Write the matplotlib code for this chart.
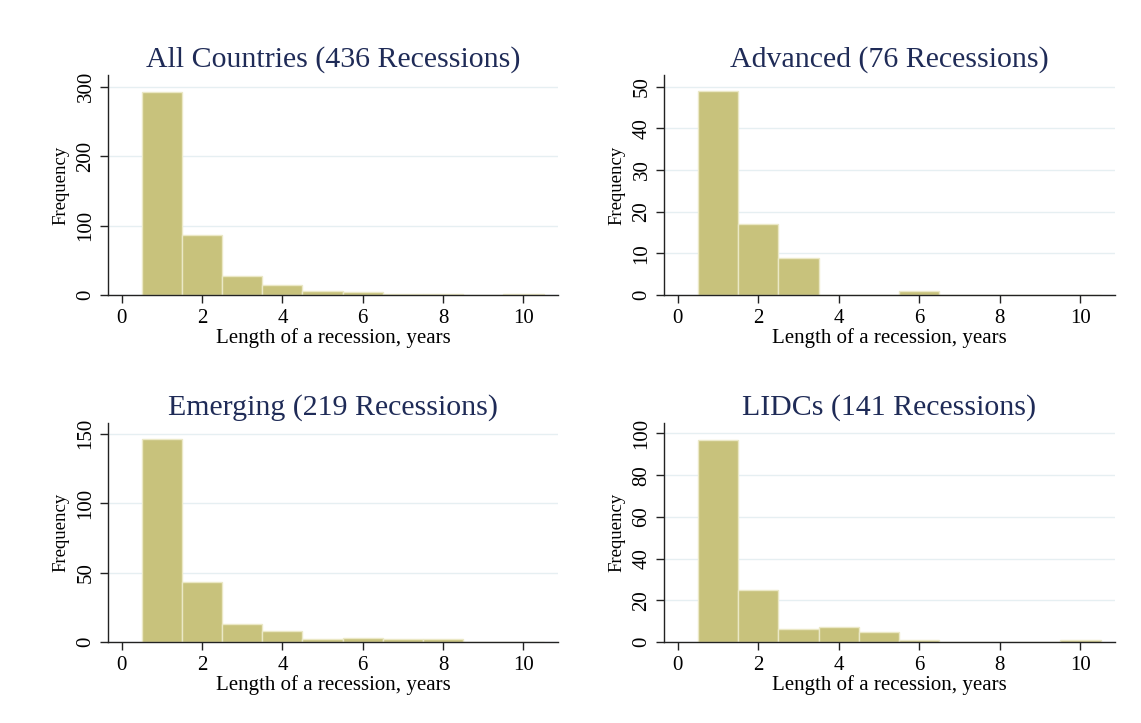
import matplotlib
matplotlib.use("Agg")
import matplotlib.pyplot as plt
import numpy as np

# bin centres (years) and frequencies
bins = [1, 2, 3, 4, 5, 6, 7, 8, 9, 10]

all_counts = [292, 86, 27, 14, 6, 4, 2, 2, 0, 2]
adv_counts = [49, 17, 9, 0, 0, 1, 0, 0, 0, 0]
emg_counts = [146, 43, 13, 8, 2, 3, 2, 2, 0, 0]
lidc_counts = [97, 25, 6, 7, 5, 1, 0, 0, 0, 1]

titles = ["All Countries (436 Recessions)", "Advanced (76 Recessions)",
          "Emerging (219 Recessions)", "LIDCs (141 Recessions)"]
yticks = [[0, 100, 200, 300], [0, 10, 20, 30, 40, 50],
          [0, 50, 100, 150], [0, 20, 40, 60, 80, 100]]
ytops = [317, 52.8, 157.6, 105]
xticks = [0, 2, 4, 6, 8, 10]

plt.rcParams["font.family"] = ["Liberation Serif", "DejaVu Serif"]

W, H = 1141, 723
fig = plt.figure(figsize=(W / 100, H / 100), dpi=100)

# axes boxes in pixels: left, top, right, bottom
boxes = [(108, 75, 558, 295), (664, 75, 1115, 295),
         (108, 423, 558, 642), (664, 423, 1115, 642)]

bar_color = "#c8c27c"
edge_color = "#ebe8c6"
title_color = "#1f2b57"

for counts, title, yt, ytop, (l, t, r, b) in zip(
        [all_counts, adv_counts, emg_counts, lidc_counts], titles, yticks, ytops, boxes):
    ax = fig.add_axes((l / W, 1 - b / H, (r - l) / W, (b - t) / H))
    ax.bar(bins, counts, width=1.0, color=bar_color, edgecolor=edge_color,
           linewidth=1.0, zorder=2)
    ax.set_xlim(-0.34, 10.86)
    ax.set_ylim(0, ytop)
    ax.set_xticks(xticks)
    ax.set_yticks(yt)
    ax.set_yticklabels([str(v) for v in yt], rotation=90, va="center")
    ax.grid(axis="y", color="#e6eff2", linewidth=1.0, zorder=0)
    ax.spines["top"].set_visible(False)
    ax.spines["right"].set_visible(False)
    for s in ["left", "bottom"]:
        ax.spines[s].set_color("#222222")
        ax.spines[s].set_linewidth(1.0)
    ax.tick_params(axis="both", direction="out", length=6, width=1.0,
                   color="#222222", labelsize=15)
    ax.tick_params(axis="x", pad=4)
    ax.tick_params(axis="y", pad=3)
    ax.set_title(title, fontsize=21.5, color=title_color, pad=6)
    ax.set_xlabel("Length of a recession, years", fontsize=15, labelpad=0)
    ax.set_ylabel("Frequency", fontsize=13.5, labelpad=5)

fig.savefig("out.png", dpi=100)
